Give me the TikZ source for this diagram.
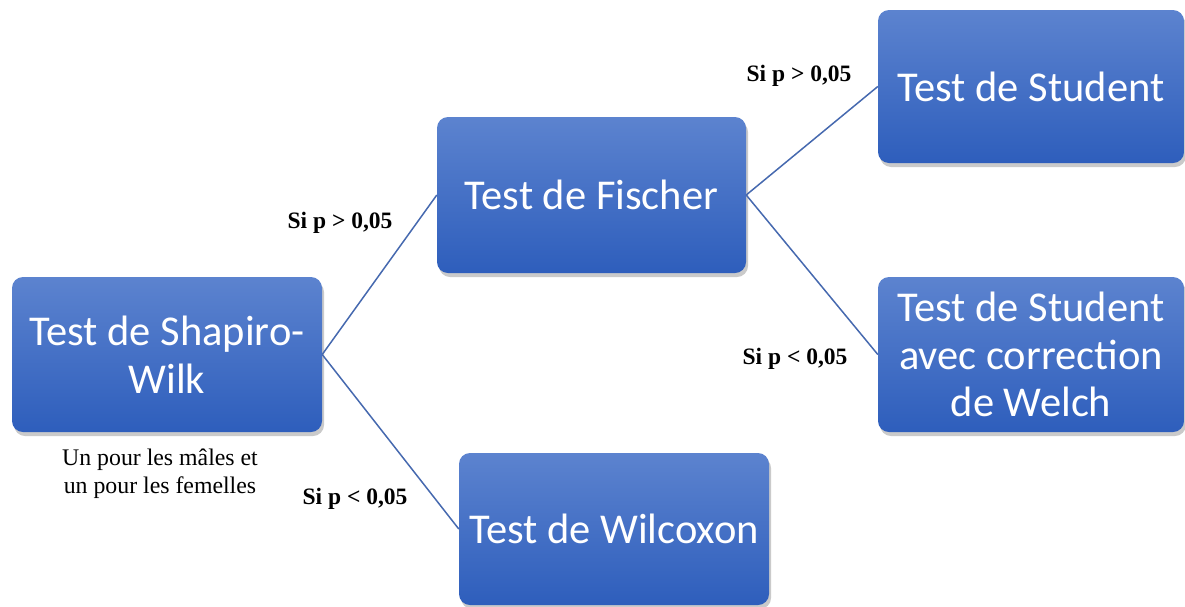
\documentclass[tikz,border=0pt]{standalone}
\usepackage{fontspec}
\setmainfont{Liberation Serif}
\newfontfamily\boxfont{Carlito}
\usetikzlibrary{shadows}
\definecolor{boxtop}{RGB}{92,131,207}
\definecolor{boxbot}{RGB}{46,94,188}
\definecolor{linkblue}{RGB}{70,105,175}
\tikzset{
  testbox/.style={rectangle, rounded corners=11pt, top color=boxtop, bottom color=boxbot,
    draw=none, text=white, inner sep=0pt, align=center,
    font=\boxfont\fontsize{42.5}{47.5}\selectfont,
    drop shadow={shadow xshift=2pt, shadow yshift=-4pt, opacity=0.35, fill=black!60}},
  link/.style={draw=linkblue, line width=1.5pt},
  cond/.style={font=\bfseries\fontsize{23.5}{26}\selectfont, inner sep=0pt},
  note/.style={font=\fontsize{23.8}{28}\selectfont, align=center, inner sep=0pt}
}
\begin{document}
\begin{tikzpicture}[x=1pt,y=-1pt]
\useasboundingbox (0,0) rectangle (1185,606);
\node[testbox, minimum width=310pt, minimum height=155pt] (sw) at (167,354.5) {Test de Shapiro-\\Wilk};
\node[testbox, minimum width=309pt, minimum height=156pt] (fi) at (591.5,195) {Test de Fischer};
\node[testbox, minimum width=306pt, minimum height=153pt] (st) at (1031,86.5) {Test de Student};
\node[testbox, minimum width=306pt, minimum height=155pt] (we) at (1031,354.5) {Test de Student\\avec correction\\de Welch};
\node[testbox, minimum width=310pt, minimum height=152pt] (wi) at (614,529) {Test de Wilcoxon};
\draw[link] (sw.east) -- (fi.west);
\draw[link] (sw.east) -- (wi.west);
\draw[link] (fi.east) -- (st.west);
\draw[link] (fi.east) -- (we.west);
\node[cond] (c1) at (340,223) {Si p > 0,05};
\node[cond] (c2) at (355,499) {Si p < 0,05};
\node[cond] (c3) at (799,76) {Si p > 0,05};
\node[cond] (c4) at (795,359) {Si p < 0,05};
\node[note] (n1) at (160,474) {Un pour les mâles et\\un pour les femelles};
\end{tikzpicture}
\end{document}
